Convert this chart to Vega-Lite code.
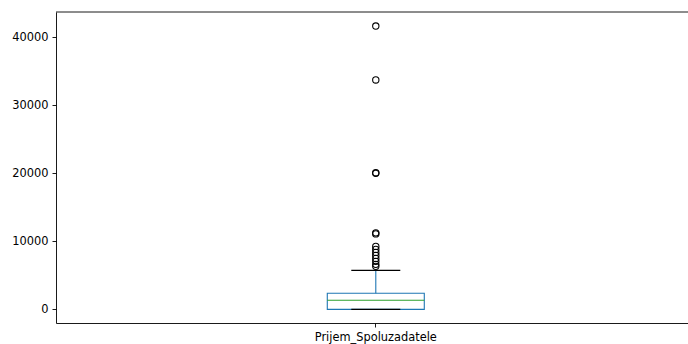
{
  "$schema": "https://vega.github.io/schema/vega-lite/v6.json",
  "width": 632,
  "height": 311,
  "autosize": {"type": "none"},
  "padding": {"left": 56, "top": 12, "right": 0, "bottom": 21},
  "background": "white",
  "config": {
    "view": {"stroke": null},
    "axis": {
      "grid": false,
      "labelFont": "DejaVu Sans",
      "labelFontSize": 11.4,
      "labelColor": "#000000",
      "tickColor": "#000000",
      "tickSize": 4,
      "tickWidth": 0.9,
      "domainColor": "#000000",
      "domainWidth": 0.9,
      "labelPadding": 4,
      "title": null
    }
  },
  "datasets": {
    "summary": [
      {"cat": "Prijem_Spoluzadatele", "lower": 0, "q1": 0, "median": 1350, "q3": 2380, "upper": 5740}
    ],
    "outliers": [
      {"cat": "Prijem_Spoluzadatele", "value": 41650},
      {"cat": "Prijem_Spoluzadatele", "value": 33730},
      {"cat": "Prijem_Spoluzadatele", "value": 20100},
      {"cat": "Prijem_Spoluzadatele", "value": 20000},
      {"cat": "Prijem_Spoluzadatele", "value": 11250},
      {"cat": "Prijem_Spoluzadatele", "value": 11100},
      {"cat": "Prijem_Spoluzadatele", "value": 9260},
      {"cat": "Prijem_Spoluzadatele", "value": 8820},
      {"cat": "Prijem_Spoluzadatele", "value": 8380},
      {"cat": "Prijem_Spoluzadatele", "value": 7940},
      {"cat": "Prijem_Spoluzadatele", "value": 7500},
      {"cat": "Prijem_Spoluzadatele", "value": 7060},
      {"cat": "Prijem_Spoluzadatele", "value": 6620},
      {"cat": "Prijem_Spoluzadatele", "value": 6330}
    ]
  },
  "layer": [
    {
      "data": {"name": "summary"},
      "mark": {"type": "bar", "size": 97, "fill": "transparent", "stroke": "#1f77b4", "strokeWidth": 1.1},
      "encoding": {
        "x": {"field": "cat", "type": "nominal",
              "scale": {"paddingInner": 0, "paddingOuter": 0.5, "align": 0.512},
              "axis": {"labelAngle": 0}},
        "y": {"field": "q1", "type": "quantitative",
              "scale": {"domain": [-2000, 43720], "nice": false, "zero": false},
              "axis": {"values": [0, 10000, 20000, 30000, 40000], "format": "d"}},
        "y2": {"field": "q3"}
      }
    },
    {
      "data": {"name": "summary"},
      "mark": {"type": "rule", "color": "#1f77b4", "strokeWidth": 1.1},
      "encoding": {
        "x": {"field": "cat", "type": "nominal"},
        "y": {"field": "q3", "type": "quantitative"},
        "y2": {"field": "upper"}
      }
    },
    {
      "data": {"name": "summary"},
      "mark": {"type": "tick", "size": 97, "thickness": 1.1, "color": "#2ca02c", "opacity": 1},
      "encoding": {
        "x": {"field": "cat", "type": "nominal"},
        "y": {"field": "median", "type": "quantitative"}
      }
    },
    {
      "data": {"name": "summary"},
      "mark": {"type": "tick", "size": 49, "thickness": 1.1, "color": "#000000", "opacity": 1},
      "encoding": {
        "x": {"field": "cat", "type": "nominal"},
        "y": {"field": "upper", "type": "quantitative"}
      }
    },
    {
      "data": {"name": "summary"},
      "mark": {"type": "tick", "size": 49, "thickness": 1.1, "color": "#000000", "opacity": 1},
      "encoding": {
        "x": {"field": "cat", "type": "nominal"},
        "y": {"field": "lower", "type": "quantitative"}
      }
    },
    {
      "data": {"name": "outliers"},
      "mark": {"type": "point", "shape": "circle", "filled": false, "size": 40, "stroke": "#000000", "strokeWidth": 1.1, "opacity": 1},
      "encoding": {
        "x": {"field": "cat", "type": "nominal"},
        "y": {"field": "value", "type": "quantitative"}
      }
    },
    {
      "data": {"values": [{}]},
      "mark": {"type": "rule", "color": "#000000", "strokeWidth": 0.9},
      "encoding": {"y": {"datum": 43720}}
    }
  ]
}
